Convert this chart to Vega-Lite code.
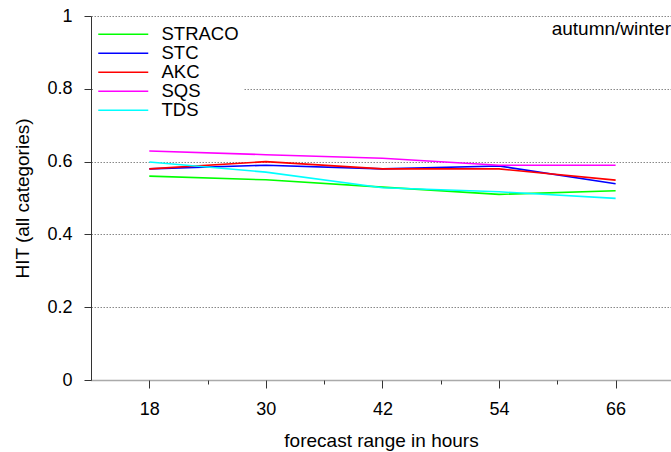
{
  "$schema": "https://vega.github.io/schema/vega-lite/v6.json",
  "width": 580,
  "height": 364,
  "autosize": "none",
  "padding": {"left": 91, "top": 16, "right": 0, "bottom": 72},
  "background": "white",
  "config": {
    "view": {"stroke": null},
    "font": "Liberation Sans",
    "axis": {"labelFont": "Liberation Sans", "titleFont": "Liberation Sans", "titleFontWeight": "normal", "labelColor": "#000", "titleColor": "#000"}
  },
  "layer": [
    {
      "data": {
        "values": [
          {"hour": 18, "hit": 0.56, "model": "STRACO"},
          {"hour": 30, "hit": 0.55, "model": "STRACO"},
          {"hour": 42, "hit": 0.53, "model": "STRACO"},
          {"hour": 54, "hit": 0.51, "model": "STRACO"},
          {"hour": 66, "hit": 0.52, "model": "STRACO"},
          {"hour": 18, "hit": 0.58, "model": "STC"},
          {"hour": 30, "hit": 0.59, "model": "STC"},
          {"hour": 42, "hit": 0.58, "model": "STC"},
          {"hour": 54, "hit": 0.588, "model": "STC"},
          {"hour": 66, "hit": 0.539, "model": "STC"},
          {"hour": 18, "hit": 0.58, "model": "AKC"},
          {"hour": 30, "hit": 0.60, "model": "AKC"},
          {"hour": 42, "hit": 0.58, "model": "AKC"},
          {"hour": 54, "hit": 0.58, "model": "AKC"},
          {"hour": 66, "hit": 0.549, "model": "AKC"},
          {"hour": 18, "hit": 0.629, "model": "SQS"},
          {"hour": 30, "hit": 0.619, "model": "SQS"},
          {"hour": 42, "hit": 0.609, "model": "SQS"},
          {"hour": 54, "hit": 0.59, "model": "SQS"},
          {"hour": 66, "hit": 0.59, "model": "SQS"},
          {"hour": 18, "hit": 0.599, "model": "TDS"},
          {"hour": 30, "hit": 0.571, "model": "TDS"},
          {"hour": 42, "hit": 0.528, "model": "TDS"},
          {"hour": 54, "hit": 0.517, "model": "TDS"},
          {"hour": 66, "hit": 0.499, "model": "TDS"}
        ]
      },
      "mark": {"type": "line", "strokeWidth": 1.6, "clip": true},
      "encoding": {
        "x": {
          "field": "hour",
          "type": "quantitative",
          "scale": {"domain": [12, 71.7], "nice": false, "zero": false},
          "axis": {
            "title": "forecast range in hours",
            "titleFontSize": 19,
            "titlePadding": 13,
            "values": [18, 24, 30, 36, 42, 48, 54, 60, 66],
            "labelExpr": "datum.value % 12 == 6 ? datum.label : ''",
            "labelFontSize": 18,
            "labelPadding": 12,
            "tickSize": {"condition": {"test": "datum.value % 12 == 6", "value": 8}, "value": 4},
            "tickColor": "#333",
            "grid": false,
            "domainColor": "#555",
            "domainDash": [1, 1],
            "domainWidth": 1.5
          }
        },
        "y": {
          "field": "hit",
          "type": "quantitative",
          "scale": {"domain": [0, 1], "nice": false},
          "axis": {
            "title": "HIT (all categories)",
            "titleFontSize": 19,
            "titlePadding": 14,
            "values": [0, 0.1, 0.2, 0.3, 0.4, 0.5, 0.6, 0.7, 0.8, 0.9, 1],
            "format": "~g",
            "labelExpr": "round(datum.value*10) % 2 == 0 ? datum.label : ''",
            "labelFontSize": 18,
            "labelPadding": 12,
            "tickSize": {"condition": {"test": "round(datum.value*10) % 2 == 0", "value": 7}, "value": 4},
            "tickColor": "#333",
            "domainColor": "#333",
            "grid": true,
            "gridColor": "#888",
            "gridDash": [1.5, 1.5],
            "gridOpacity": {"condition": {"test": "datum.value > 0.1 && round(datum.value*10) % 2 == 0", "value": 1}, "value": 0}
          }
        },
        "color": {
          "field": "model",
          "type": "nominal",
          "scale": {
            "domain": ["STRACO", "STC", "AKC", "SQS", "TDS"],
            "range": ["#00ff00", "#0000ff", "#ff0000", "#ff00ff", "#00ffff"]
          },
          "legend": {
            "title": null,
            "orient": "none",
            "legendX": 2,
            "legendY": 5,
            "padding": 4,
            "fillColor": "white",
            "strokeColor": null,
            "symbolType": "M-3.2,0H16.8",
            "symbolSize": 25,
            "symbolStrokeWidth": 1.6,
            "labelFont": "Liberation Sans",
            "labelFontSize": 18.5,
            "labelOffset": 46,
            "rowPadding": 0,
            "labelLimit": 300,
            "encoding": {"labels": {"update": {"fill": {"scale": "color", "field": "value"}}}}
          }
        },
        "order": {"field": "hour", "type": "quantitative"}
      }
    },
    {
      "data": {"values": [{"note": "autumn/winter"}]},
      "mark": {"type": "text", "align": "right", "baseline": "middle", "fontSize": 19, "font": "Liberation Sans", "color": "#000"},
      "encoding": {
        "text": {"field": "note", "type": "nominal"},
        "x": {"datum": 71.7, "type": "quantitative"},
        "y": {"datum": 0.965, "type": "quantitative"}
      }
    }
  ]
}
